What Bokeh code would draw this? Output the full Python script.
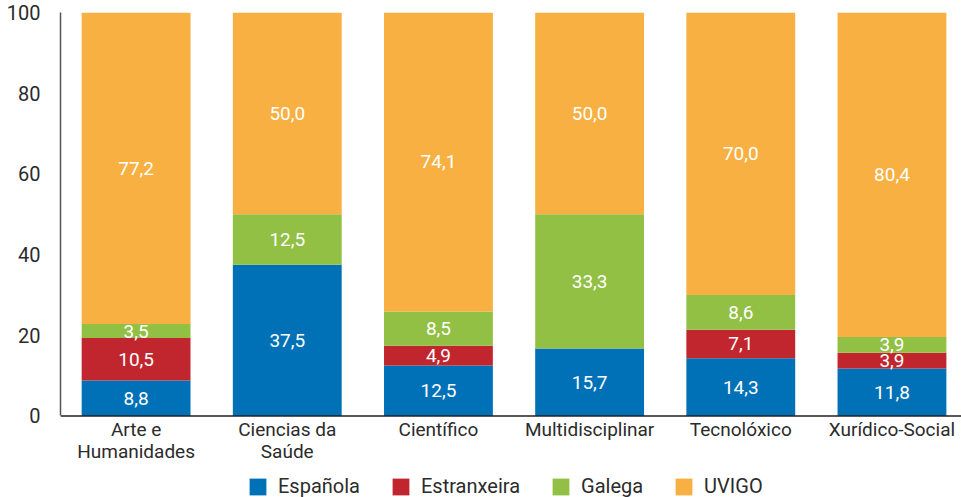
from bokeh.plotting import figure
from bokeh.models import (ColumnDataSource, Range1d, FixedTicker, Legend, LegendItem, Span)
from bokeh.core.properties import value
from bokeh.embed import file_html
from bokeh.resources import INLINE
import numpy as np

categories = ["Arte e\nHumanidades", "Ciencias da\nSaúde", "Científico",
              "Multidisciplinar", "Tecnolóxico", "Xurídico-Social"]
series = ["Española", "Estranxeira", "Galega", "UVIGO"]
espanola = [8.8, 37.5, 12.5, 16.7, 14.3, 11.8]
estranxeira = [10.5, 0.0, 4.9, 0.0, 7.1, 3.9]
galega = [3.5, 12.5, 8.5, 33.3, 8.6, 3.9]
uvigo = [77.2, 50.0, 74.1, 50.0, 70.0, 80.4]
# printed labels (as shown on the chart)
espanola_labels = ["8,8", "37,5", "12,5", "15,7", "14,3", "11,8"]
y_ticks = [0, 20, 40, 60, 80, 100]

colors = ["#0071b6", "#c1262f", "#92c045", "#f7b041"]
FONT = "Roboto"
TEXT = "#2b2b2b"

x = list(range(len(categories)))
keys = ["espanola", "estranxeira", "galega", "uvigo"]
data = dict(x=x, espanola=espanola, estranxeira=estranxeira, galega=galega, uvigo=uvigo)
source = ColumnDataSource(data)

p = figure(frame_width=901, frame_height=485, output_backend="svg", toolbar_location=None,
           x_range=Range1d(-0.5, 5.46), y_range=Range1d(-20.2, 100),
           min_border_left=60, min_border_top=12, min_border_right=0, min_border_bottom=0)
p.outline_line_color = None
p.xgrid.grid_line_color = None
p.ygrid.grid_line_color = None

renderers = p.vbar_stack(keys, x="x", width=0.72, color=colors, source=source,
                         line_color=None)

# value labels
vals = np.array([espanola, estranxeira, galega, uvigo])
bottoms = np.vstack([np.zeros(len(x)), np.cumsum(vals, axis=0)[:-1]])
mids = bottoms + vals / 2
lx, ly, lt = [], [], []
for i, arr in enumerate(vals):
    for j, v in enumerate(arr):
        if v <= 0:
            continue
        lx.append(x[j])
        ly.append(mids[i][j])
        lt.append(espanola_labels[j] if i == 0 else f"{v:.1f}".replace(".", ","))
p.text(x=lx, y=ly, text=lt, text_align="center", text_baseline="middle",
       text_color="white", text_font=value(FONT), text_font_size="19px")

# x axis: baseline and category labels
p.xaxis.visible = False
p.add_layout(Span(location=0, dimension="width", line_color="#222222", line_width=1.5))
p.text(x=x, y=[0] * len(x), text=categories, y_offset=2,
       text_align="center", text_baseline="top", text_line_height=0.95,
       text_color=TEXT, text_font=value(FONT), text_font_size="19px")

# y axis
p.yaxis.ticker = FixedTicker(ticks=y_ticks)
p.yaxis.bounds = (0, 100)
p.yaxis.major_tick_line_color = None
p.yaxis.minor_tick_line_color = None
p.yaxis.axis_line_color = "#555555"
p.yaxis.axis_line_width = 1.5
p.yaxis.major_label_text_font = FONT
p.yaxis.major_label_text_font_size = "20px"
p.yaxis.major_label_text_color = TEXT
p.yaxis.major_label_standoff = 14
p.yaxis.major_label_text_baseline = "top"

legend = Legend(items=[LegendItem(label=s, renderers=[r]) for s, r in zip(series, renderers)],
                orientation="horizontal", location=(187, -1),
                label_text_font=FONT, label_text_font_size="20px", label_text_color=TEXT,
                glyph_width=21, glyph_height=21, label_standoff=10, spacing=30,
                padding=0, margin=0, border_line_color=None, background_fill_alpha=0)
p.add_layout(legend, "center")

open("out.html", "w").write(file_html(p, INLINE))
